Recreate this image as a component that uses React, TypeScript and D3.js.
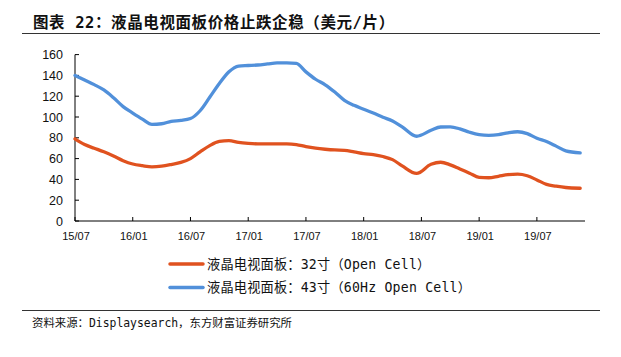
import React from "react";
import * as d3 from "d3";

// month offsets from 2015/07
const months = [0,1,2,3,4,5,6,7,8,9,10,11,12,13,14,15,16,17,18,19,20,21,22,23,24,25,26,27,28,29,30,31,32,33,34,35.5,37,38,39,40,41,42,43,44,45,46,47,48,49,50,51,52.5];
const panel32 = [79,73.5,70,66.5,62.5,58,54.8,53.2,52.1,52.7,54.3,56.3,60,66.5,72.5,76.5,77.3,75.5,74.6,74.2,74.2,74.2,74.2,73.5,71.5,70,69,68.3,68,66.5,64.8,63.8,62,59,53,45.7,54.5,56.5,54,50,46,42,41.6,43,44.5,45,43.5,39.5,35.2,33.5,32.2,31.5];
const panel43 = [140,135.5,131.1,126,118.5,110,103.8,98,93,93.5,95.9,96.7,98.5,106,119,132.2,143.5,149,149.5,150,151,152,152,151.5,143.4,136.3,131,124,116,111.2,107.5,103.8,99.8,96.2,90.5,81.5,87.2,90.4,90.5,88.6,85.3,83,82.4,83,84.8,85.8,84,79.5,76.4,72,67.5,65.6];
const xTickMonths = [0,6,12,18,24,30,36,42,48];
const xTickLabels = ["15/07","16/01","16/07","17/01","17/07","18/01","18/07","19/01","19/07"];
const yTicks = [0,20,40,60,80,100,120,140,160];
const seriesNames = ["液晶电视面板：32寸（Open Cell）", "液晶电视面板：43寸（60Hz Open Cell）"];
const title = "图表 22：液晶电视面板价格止跌企稳（美元/片）";
const source = "资料来源：Displaysearch，东方财富证券研究所";

const ORANGE = "#E0521F";
const BLUE = "#5190DA";
const CJK = "'DejaVu Sans Mono','Noto Sans CJK SC',sans-serif";
const SANS = "'Liberation Sans',Arial,sans-serif";

export default function App() {
  const W = 621, H = 357;
  const x = d3.scaleLinear().domain([0, 53]).range([75, 585]);
  const y = d3.scaleLinear().domain([0, 160]).range([221, 54.6]);
  const line = d3.line<number>().x((_, i) => x(months[i])).y((d) => y(d)).curve(d3.curveMonotoneX);
  const series = [
    { name: seriesNames[0], values: panel32, color: ORANGE },
    { name: seriesNames[1], values: panel43, color: BLUE },
  ];
  return (
    <svg width={W} height={H} style={{ position: "absolute", left: 0, top: 0, background: "#fff" }}>
      <rect width={W} height={H} fill="#fff" />
      <text x={33} y={28} fontFamily={CJK} fontWeight="bold" fontSize={15.5} letterSpacing={0.6} fill="#111">{title}</text>
      <line x1={22} x2={600} y1={33.5} y2={33.5} stroke="#333" strokeWidth={1} />
      {/* axes */}
      <line x1={x(0)} x2={x(0)} y1={y(160)} y2={y(0)} stroke="#000" strokeWidth={1} />
      <line x1={x(0)} x2={x(53)} y1={y(0)} y2={y(0)} stroke="#000" strokeWidth={1} />
      {yTicks.map((t) => (
        <g key={t}>
          <line x1={x(0)} x2={x(0) + 4} y1={y(t)} y2={y(t)} stroke="#000" />
          <text x={63} y={y(t) + 4.5} textAnchor="end" fontFamily={SANS} fontSize={12.5} fill="#111">{t}</text>
        </g>
      ))}
      {xTickMonths.map((m, i) => (
        <g key={m}>
          <line x1={x(m)} x2={x(m)} y1={y(0)} y2={y(0) - 4} stroke="#000" />
          <text x={x(m) + 1} y={240} textAnchor="middle" fontFamily={SANS} fontSize={11} fill="#111">{xTickLabels[i]}</text>
        </g>
      ))}
      {series.map((s) => (
        <path key={s.name} d={line(s.values) || ""} fill="none" stroke={s.color} strokeWidth={3.3} strokeLinejoin="round" strokeLinecap="round" />
      ))}
      {series.map((s, i) => (
        <g key={"lg" + i}>
          <line x1={170} x2={203} y1={264 + i * 23.5} y2={264 + i * 23.5} stroke={s.color} strokeWidth={3.5} strokeLinecap="round" />
          <text x={207} y={268.5 + i * 23.5} fontFamily={CJK} fontSize={13.2} letterSpacing={0.2} fill="#111">{s.name}</text>
        </g>
      ))}
      <line x1={22} x2={600} y1={310.5} y2={310.5} stroke="#333" strokeWidth={1} />
      <text x={32} y={327} fontFamily={CJK} fontSize={11.4} fill="#111">{source}</text>
    </svg>
  );
}
